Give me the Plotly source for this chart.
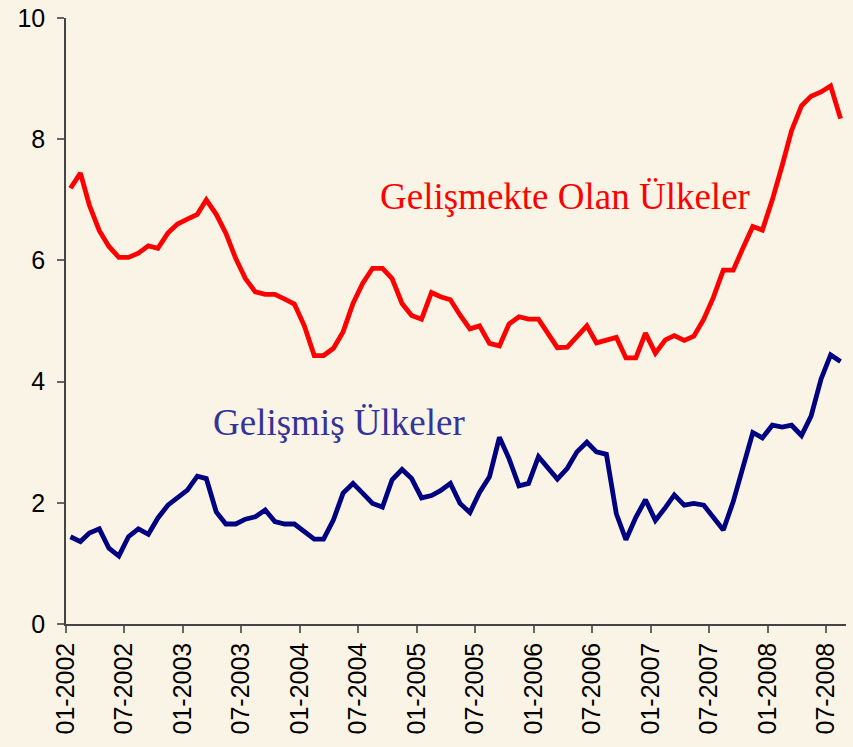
import plotly.graph_objects as go
import pandas as pd

# Monthly observations, Jan 2002 - Aug 2008 (plotted mid-month)
months = pd.date_range("2002-01-01", periods=80, freq="MS") + pd.Timedelta(days=14)

gelismekte = [
    7.19, 7.44, 6.91, 6.49, 6.23, 6.05, 6.05, 6.12, 6.24, 6.20, 6.45, 6.60,
    6.68, 6.76, 7.00, 6.76, 6.45, 6.03, 5.70, 5.48, 5.44, 5.44, 5.36, 5.28,
    4.92, 4.43, 4.43, 4.55, 4.82, 5.29, 5.62, 5.87, 5.87, 5.70, 5.29, 5.09,
    5.03, 5.47, 5.40, 5.35, 5.10, 4.87, 4.92, 4.63, 4.59, 4.95, 5.07, 5.03,
    5.03, 4.80, 4.56, 4.57, 4.75, 4.92, 4.64, 4.69, 4.73, 4.39, 4.39, 4.80,
    4.47, 4.69, 4.76, 4.68, 4.75, 5.03, 5.39, 5.84, 5.84, 6.20, 6.56, 6.50,
    7.00, 7.57, 8.14, 8.55, 8.71, 8.78, 8.88, 8.34,
]

gelismis = [
    1.44, 1.36, 1.50, 1.57, 1.25, 1.12, 1.44, 1.57, 1.48, 1.75, 1.96, 2.08,
    2.21, 2.44, 2.40, 1.85, 1.65, 1.65, 1.73, 1.77, 1.88, 1.69, 1.65, 1.65,
    1.52, 1.40, 1.40, 1.72, 2.16, 2.32, 2.16, 1.99, 1.93, 2.38, 2.55, 2.40,
    2.08, 2.12, 2.20, 2.32, 1.99, 1.84, 2.17, 2.43, 3.08, 2.73, 2.28, 2.32,
    2.76, 2.56, 2.39, 2.57, 2.84, 3.00, 2.84, 2.80, 1.82, 1.39, 1.76, 2.05,
    1.71, 1.92, 2.13, 1.96, 1.99, 1.96, 1.76, 1.55, 2.02, 2.59, 3.16, 3.07,
    3.28, 3.25, 3.28, 3.11, 3.43, 4.04, 4.44, 4.33,
]

tick_dates = pd.date_range("2002-01-01", "2008-07-01", freq="6MS")
tick_labels = [d.strftime("%m-%Y") for d in tick_dates]

label_gelismekte = "Gelişmekte Olan Ülkeler"
label_gelismis = "Gelişmiş Ülkeler"

bg = "#FAF4E6"

fig = go.Figure()
fig.add_trace(go.Scatter(x=months, y=gelismekte, mode="lines",
                         line=dict(color="#FF0000", width=4.8),
                         name=label_gelismekte, showlegend=False))
fig.add_trace(go.Scatter(x=months, y=gelismis, mode="lines",
                         line=dict(color="#000080", width=4.8),
                         name=label_gelismis, showlegend=False))

fig.add_annotation(text=label_gelismekte, xref="paper", yref="paper",
                   x=0.6397, y=0.706, xanchor="center", yanchor="middle",
                   showarrow=False,
                   font=dict(family="Liberation Serif", size=37, color="#FF0000"))
fig.add_annotation(text=label_gelismis, xref="paper", yref="paper",
                   x=0.35, y=0.333, xanchor="center", yanchor="middle",
                   showarrow=False,
                   font=dict(family="Liberation Serif", size=37, color="#333399"))

fig.update_layout(
    width=853, height=747,
    margin=dict(l=66, r=7, t=18, b=123, autoexpand=False),
    paper_bgcolor=bg, plot_bgcolor=bg,
    font=dict(family="Liberation Sans", color="#000000"),
)
fig.update_xaxes(
    type="date", automargin=False,
    range=["2002-01-01", "2008-09-01"],
    tickmode="array", tickvals=tick_dates, ticktext=tick_labels,
    tickangle=-90, tickfont=dict(size=25, family="Liberation Sans"),
    ticks="outside", ticklen=7, tickcolor="#666666", tickwidth=1.5,
    showline=True, linecolor="#444444", linewidth=1.5,
    showgrid=False, zeroline=False,
)
fig.update_yaxes(
    automargin=False,
    range=[0, 10], tickmode="array", tickvals=[0, 2, 4, 6, 8, 10],
    tickfont=dict(size=25, family="Liberation Sans"),
    ticklabelstandoff=7,
    ticks="outside", ticklen=7, tickcolor="#666666", tickwidth=1.5,
    showline=True, linecolor="#444444", linewidth=1.5,
    showgrid=False, zeroline=False,
)

fig.write_html("out.html",
               config={"displayModeBar": False},
               post_script="document.body.style.margin='0px';document.body.style.overflow='hidden';")
